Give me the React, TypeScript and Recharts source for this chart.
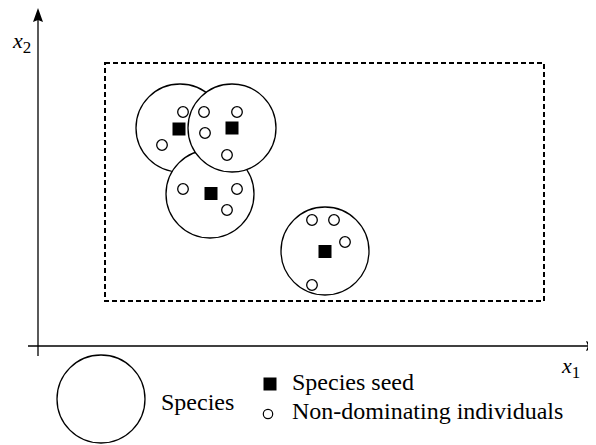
import { ScatterChart, Scatter, XAxis, YAxis, ReferenceArea, ReferenceLine, ReferenceDot } from 'recharts'

// decision space, 1 unit = 50px, origin at the axes crossing
const xDomain = [-0.6, 11.16]
const yDomain = [-1.98, 6.76]

// feasible region (dashed box)
const boundsX = [1.34, 10.12]
const boundsY = [0.9, 5.66]

// species, listed in drawing order so the overlaps come out right
const speciesX = [2.84, 3.44, 3.88, 5.74]
const speciesY = [4.36, 3.04, 4.36, 1.9]

const seedX = [2.82, 3.88, 3.46, 5.74]
const seedY = [4.34, 4.36, 3.05, 1.89]

const indivX = [2.9, 2.48, 3.32, 3.98, 3.34, 3.78, 2.9, 3.98, 3.78, 5.48, 5.92, 6.14, 5.48]
const indivY = [4.68, 4.02, 4.68, 4.68, 4.26, 3.82, 3.14, 3.14, 2.72, 2.52, 2.52, 2.08, 1.22]

const legendLabels = ['Species', 'Species seed', 'Non-dominating individuals']
const axisNames = ['x', '1', '2']

const species = speciesX.map((x, i) => ({ x, y: speciesY[i] }))
const seeds = seedX.map((x, i) => ({ x, y: seedY[i] }))
const individuals = indivX.map((x, i) => ({ x, y: indivY[i] }))

const serifFont = 'Times New Roman, Times, Liberation Serif, Tinos, Nimbus Roman, FreeSerif, DejaVu Serif, Noto Serif, serif'

const SpeciesShape = ({ cx, cy }: { cx?: number; cy?: number }) => (
  <circle cx={cx} cy={cy} r={44} fill="#fff" stroke="#000" strokeWidth={1.3} />
)

const SeedShape = ({ cx = 0, cy = 0 }: { cx?: number; cy?: number }) => (
  <rect x={cx - 6.5} y={cy - 6.5} width={13} height={13} fill="#000" />
)

const IndivShape = ({ cx, cy }: { cx?: number; cy?: number }) => (
  <circle cx={cx} cy={cy} r={5.3} fill="#fff" stroke="#000" strokeWidth={1.3} />
)

const ArrowUp = ({ cx = 0, cy = 0 }: { cx?: number; cy?: number }) => (
  <path d={`M${cx},${cy} L${cx - 5},${cy + 14} L${cx},${cy + 12} L${cx + 5},${cy + 14} Z`} fill="#000" />
)

const ArrowRight = ({ cx = 0, cy = 0 }: { cx?: number; cy?: number }) => (
  <path d={`M${cx},${cy} L${cx - 14},${cy - 5} L${cx - 12},${cy} L${cx - 14},${cy + 5} Z`} fill="#000" />
)

function Overlay() {
  return (
    <svg width={588} height={437} fontFamily={serifFont} style={{ position: 'absolute', left: 0, top: 0, pointerEvents: 'none' }}>
      <text x={5} y={40} fontSize={22} fontStyle="italic">
        {axisNames[0]}
        <tspan fontSize={17} fontStyle="normal" dy={5}>{axisNames[2]}</tspan>
      </text>
      <text x={554} y={365} fontSize={22} fontStyle="italic">
        {axisNames[0]}
        <tspan fontSize={17} fontStyle="normal" dy={5}>{axisNames[1]}</tspan>
      </text>

      <circle cx={93} cy={391} r={44} fill="#fff" stroke="#000" strokeWidth={1.3} />
      <text x={153} y={402} fontSize={24}>{legendLabels[0]}</text>

      <rect x={255.5} y={369.5} width={13} height={13} fill="#000" />
      <text x={284} y={382} fontSize={24}>{legendLabels[1]}</text>

      <circle cx={260} cy={406} r={4.7} fill="#fff" stroke="#000" strokeWidth={1.2} />
      <text x={284} y={411} fontSize={24}>{legendLabels[2]}</text>
    </svg>
  )
}

export default function App() {
  return (
    <div style={{ position: 'relative', width: 588, height: 437 }}>
      <ScatterChart width={588} height={437} margin={{ top: 0, right: 0, bottom: 0, left: 0 }}>
        <XAxis type="number" dataKey="x" domain={xDomain} hide allowDataOverflow />
        <YAxis type="number" dataKey="y" domain={yDomain} hide allowDataOverflow />

        <ReferenceLine
          segment={[{ x: 0, y: -0.2 }, { x: 0, y: 6.6 }]}
          stroke="#000"
          strokeWidth={1.3}
          ifOverflow="visible"
        />
        <ReferenceLine
          segment={[{ x: -0.2, y: 0 }, { x: 11.1, y: 0 }]}
          stroke="#000"
          strokeWidth={1.3}
          ifOverflow="visible"
        />
        <ReferenceDot x={0} y={6.76} ifOverflow="visible" shape={<ArrowUp />} />
        <ReferenceDot x={11.24} y={0} ifOverflow="visible" shape={<ArrowRight />} />

        <ReferenceArea
          x1={boundsX[0]}
          x2={boundsX[1]}
          y1={boundsY[0]}
          y2={boundsY[1]}
          fill="none"
          fillOpacity={0}
          stroke="#000"
          strokeWidth={2}
          strokeDasharray="5 3"
        />

        <Scatter data={species} shape={<SpeciesShape />} isAnimationActive={false} />
        <Scatter data={seeds} shape={<SeedShape />} isAnimationActive={false} />
        <Scatter data={individuals} shape={<IndivShape />} isAnimationActive={false} />
      </ScatterChart>
      <Overlay />
    </div>
  )
}
